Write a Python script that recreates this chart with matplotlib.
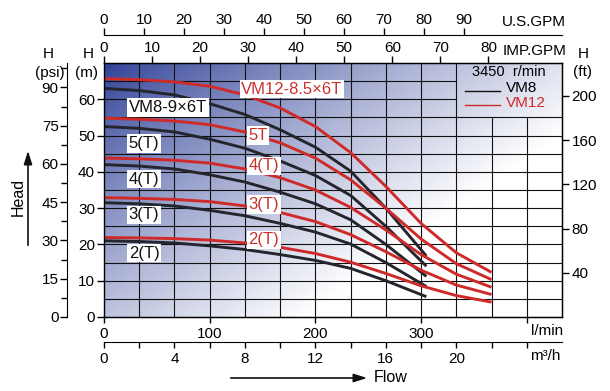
import numpy as np
import matplotlib
matplotlib.use("Agg")
import matplotlib.pyplot as plt

plt.rcParams['font.family'] = ['Liberation Sans', 'DejaVu Sans']

# -------- data (flow in m3/h, head in m) --------
q_vm8 = [0, 2, 4, 6, 8, 10, 12, 14, 16, 18.3]
vm8_2t = [21.0, 20.8, 20.4, 19.6, 18.6, 17.2, 15.6, 13.4, 10.0, 5.6]
vm8_3t = [31.5, 31.2, 30.6, 29.4, 27.9, 25.8, 23.4, 20.1, 15.0, 8.4]
vm8_4t = [42.0, 41.6, 40.8, 39.2, 37.2, 34.4, 31.2, 26.8, 20.0, 11.2]
vm8_5t = [52.5, 52.0, 51.0, 49.0, 46.5, 43.0, 39.0, 33.5, 25.0, 14.0]
vm8_6t = [63.0, 62.4, 61.2, 58.8, 55.8, 51.6, 46.8, 40.2, 30.0, 16.8]

q_vm12 = [0, 2, 4, 6, 8, 10, 12, 14, 16, 18, 20, 22]
vm12_2t = [21.9, 21.8, 21.6, 21.2, 20.4, 19.2, 17.5, 15.1, 12.0, 8.6, 5.9, 4.1]
vm12_3t = [32.9, 32.7, 32.4, 31.8, 30.6, 28.8, 26.3, 22.7, 18.0, 12.9, 8.8, 6.2]
vm12_4t = [43.8, 43.6, 43.2, 42.4, 40.8, 38.4, 35.0, 30.2, 24.0, 17.2, 11.8, 8.2]
vm12_5t = [54.8, 54.5, 54.0, 53.0, 51.0, 48.0, 43.8, 37.8, 30.0, 21.5, 14.7, 10.3]
vm12_6t = [65.7, 65.4, 64.8, 63.6, 61.2, 57.6, 52.5, 45.3, 36.0, 25.8, 17.7, 12.3]

vm8_series = [vm8_2t, vm8_3t, vm8_4t, vm8_5t, vm8_6t]
vm12_series = [vm12_2t, vm12_3t, vm12_4t, vm12_5t, vm12_6t]

vm8_labels = ['2(T)', '3(T)', '4(T)', '5(T)', 'VM8-9×6T']
vm8_label_y = [17.6, 28.2, 38.0, 47.8, 57.7]
vm12_labels = ['2(T)', '3(T)', '4(T)', '5T', 'VM12-8.5×6T']
vm12_label_y = [21.3, 31.0, 41.7, 50.0, 62.8]

m3h_ticks = [0, 2, 4, 6, 8, 10, 12, 14, 16, 18, 20, 22, 24]
m3h_labels = ['0', '', '4', '', '8', '', '12', '', '16', '', '20', '', '']
lmin_ticks = [0, 100, 200, 300, 400]
lmin_labels = ['0', '100', '200', '300', '']
usgpm_ticks = [0, 10, 20, 30, 40, 50, 60, 70, 80, 90]
impgpm_ticks = [0, 10, 20, 30, 40, 50, 60, 70, 80]
m_ticks = [0, 10, 20, 30, 40, 50, 60]
psi_ticks = [0, 15, 30, 45, 60, 75, 90]
ft_ticks = [40, 80, 120, 160, 200]

# -------- figure --------
W, H = 610, 391
fig = plt.figure(figsize=(W / 100, H / 100), dpi=100)
L, R, T, B = 104, 562, 63, 317
ax = fig.add_axes([L / W, 1 - B / H, (R - L) / W, (B - T) / H])
ax.set_xlim(0, 26)
ax.set_ylim(0, 70)

# background gradient (dark blue top-left -> white bottom-right)
u, v = np.meshgrid(np.linspace(0, 1, 300), np.linspace(0, 1, 200))
t = np.clip(0.82 * u + 0.64 * v, 0, 1) ** 0.85
dark = np.array([46, 64, 150]) / 255.0
img = dark[None, None, :] + (1 - dark[None, None, :]) * t[:, :, None]
ax.imshow(img, extent=[0, 26, 0, 70], aspect='auto', origin='upper', zorder=0)

# grid (left open behind the legend box)
for x in range(2, 26, 2):
    top = 55 if x > 20 else 70
    ax.plot([x, x], [0, top], color='#111111', lw=0.8, zorder=1)
for y in range(5, 70, 5):
    right = 20 if y > 55 else 26
    ax.plot([0, right], [y, y], color='#111111', lw=0.8, zorder=1)

# curves
for s in vm8_series:
    ax.plot(q_vm8, s, color='#25252d', lw=2.1, zorder=3, solid_capstyle='butt')
for s in vm12_series:
    ax.plot(q_vm12, s, color='#cf2a2a', lw=2.1, zorder=4, solid_capstyle='butt')

box = dict(facecolor='white', edgecolor='none', pad=1.2)
for lab, y in zip(vm8_labels, vm8_label_y):
    ax.text(1.4, y, lab, fontsize=12, color='#111111', ha='left', va='center',
            bbox=box, zorder=5)
for lab, y in zip(vm12_labels, vm12_label_y):
    xx = 7.8 if lab.startswith('VM') else 8.2
    ax.text(xx, y, lab, fontsize=12, color='#c8322d', ha='left', va='center',
            bbox=box, zorder=5)

# legend
ax.text(20.9, 67.4, '3450  r/min', fontsize=10.5, ha='left', va='center', zorder=5)
ax.plot([20.5, 22.5], [62.2, 62.2], color='#111111', lw=1.0, zorder=5)
ax.text(22.8, 63.2, 'VM8', fontsize=11, ha='left', va='center', zorder=5)
ax.plot([20.5, 22.5], [58.4, 58.4], color='#cf2a2a', lw=1.0, zorder=5)
ax.text(22.8, 59.0, 'VM12', fontsize=11, color='#cf2a2a', ha='left', va='center', zorder=5)

for sp in ax.spines.values():
    sp.set_linewidth(1.0)
    sp.set_zorder(6)

# main axes: left in m, no bottom/top ticks (handled by secondary axes)
ax.set_xticks([])
ax.set_yticks(m_ticks)
ax.tick_params(axis='y', direction='out', length=5, width=1, pad=1.5, labelsize=11)

# l/min on the bottom spine
lmin = ax.secondary_xaxis('bottom', functions=(lambda x: x * 1000 / 60.0,
                                               lambda l: l * 60 / 1000.0))
lmin.set_xticks(lmin_ticks, lmin_labels)
lmin.tick_params(direction='out', length=4, width=1, pad=3, labelsize=11)

# m3/h axis below
m3h = ax.secondary_xaxis(-(342 - B) / (B - T))
m3h.set_xticks(m3h_ticks, m3h_labels)
m3h.tick_params(direction='out', length=4, width=1, pad=3, labelsize=11)

# IMP.GPM on the top spine
imp = ax.secondary_xaxis('top', functions=(lambda x: x / 0.27276,
                                           lambda g: g * 0.27276))
imp.set_xticks(impgpm_ticks)
imp.tick_params(direction='out', length=5, width=1, pad=0.5, labelsize=11)

# U.S.GPM above
us = ax.secondary_xaxis(1 + (T - 35) / (B - T), functions=(lambda x: x / 0.22712,
                                                           lambda g: g * 0.22712))
us.set_xticks(usgpm_ticks)
us.tick_params(direction='out', length=5, width=1, pad=1, labelsize=11)

# psi on the far left
psi = ax.secondary_yaxis(-(L - 67) / (R - L), functions=(lambda m: m / 0.70307,
                                                         lambda p: p * 0.70307))
psi.set_yticks(psi_ticks)
psi.set_yticks(np.arange(7.5, 100, 15), minor=True)
psi.tick_params(which='major', direction='out', length=5, width=1, pad=1, labelsize=11)
psi.tick_params(which='minor', direction='out', length=4, width=1)

# ft on the right
ft = ax.secondary_yaxis('right', functions=(lambda m: m * 3.2808,
                                            lambda f: f / 3.2808))
ft.set_yticks(ft_ticks)
ft.tick_params(direction='out', length=5, width=1, pad=2, labelsize=11)


def ftext(px, py, s, **kw):
    fig.text(px / W, 1 - py / H, s, **kw)


ftext(48, 54, 'H', fontsize=11, ha='center', va='center')
ftext(50, 73, '(psi)', fontsize=11, ha='center', va='center')
ftext(88, 54, 'H', fontsize=11, ha='center', va='center')
ftext(87, 73, '(m)', fontsize=11, ha='center', va='center')
ftext(583, 54, 'H', fontsize=11, ha='center', va='center')
ftext(583, 72, '(ft)', fontsize=11, ha='center', va='center')
ftext(566, 22, 'U.S.GPM', fontsize=11, ha='right', va='center')
ftext(566, 51, 'IMP.GPM', fontsize=11, ha='right', va='center')
ftext(563, 331, 'l/min', fontsize=11, ha='right', va='center')
ftext(560, 356, 'm³/h', fontsize=11, ha='right', va='center')
ftext(374, 378, 'Flow', fontsize=11.5, ha='left', va='center')
ftext(18, 197, 'Head', fontsize=11.5, ha='center', va='center', rotation=90)

fig.add_artist(matplotlib.patches.FancyArrowPatch(
    (228 / W, 1 - 378 / H), (370 / W, 1 - 378 / H), transform=fig.transFigure,
    arrowstyle='-|>,head_length=8,head_width=2.5', lw=1.2, color='#111111'))
fig.add_artist(matplotlib.patches.FancyArrowPatch(
    (28 / W, 1 - 248 / H), (28 / W, 1 - 148 / H), transform=fig.transFigure,
    arrowstyle='-|>,head_length=8,head_width=2.5', lw=1.2, color='#111111'))

fig.savefig('out.png', dpi=100)
